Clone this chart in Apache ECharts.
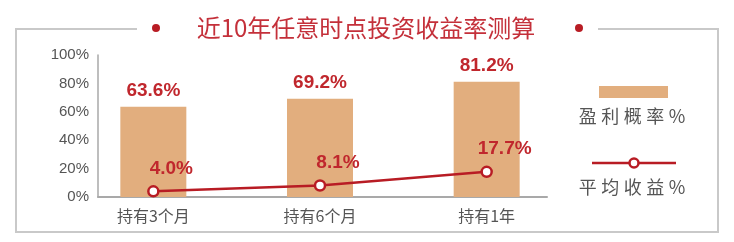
<!DOCTYPE html>
<html><head><meta charset="utf-8">
<script src="https://cdn.jsdelivr.net/npm/echarts@6/dist/echarts.min.js"></script>
<style>html,body{margin:0;padding:0;background:#fff}#c{width:734px;height:242px}</style>
</head><body><div id="c"></div>
<script>
const categories = ['持有3个月', '持有6个月', '持有1年'];
const winRate = [63.6, 69.2, 81.2];
const avgReturn = [4.0, 8.1, 17.7];
const yTicks = [0, 20, 40, 60, 80, 100];
const titleText = '近10年任意时点投资收益率测算';
const legendNames = ['盈利概率%', '平均收益%'];

const BAR = '#e2ae7e', RED = '#b81c24', LBL = '#c0272d', GRAY = '#555555', FRAME = '#c9c9c9';
const FONT = '"Noto Sans CJK SC","Liberation Sans",sans-serif';
const spaced = s => s.split('').join('\u2005');

const chart = echarts.init(document.getElementById('c'), null, {renderer: 'canvas'});
chart.setOption({
  backgroundColor: '#fff',
  animation: false,
  textStyle: {fontFamily: FONT},
  grid: [
    {left: 98, right: 187, top: 55, bottom: 45},
    {left: 70, width: 500, top: 55, bottom: 45}
  ],
  xAxis: [
    {type: 'category', gridIndex: 0, data: categories, axisLine: {lineStyle: {color: '#a9a9a9', width: 2}},
     axisTick: {show: false}, axisLabel: {show: false}},
    {type: 'category', gridIndex: 1, data: categories, axisLine: {show: false}, axisTick: {show: false},
     axisLabel: {color: GRAY, fontSize: 16, margin: 11, fontFamily: FONT}}
  ],
  yAxis: [
    {type: 'value', gridIndex: 0, min: yTicks[0], max: yTicks[yTicks.length - 1], interval: 20,
     axisLine: {show: true, lineStyle: {color: '#a9a9a9', width: 1.5}}, axisTick: {show: false},
     splitLine: {show: false},
     axisLabel: {color: GRAY, fontSize: 15, margin: 9, fontFamily: '"Liberation Sans",sans-serif', formatter: '{value}%'}},
    {type: 'value', gridIndex: 1, min: yTicks[0], max: yTicks[yTicks.length - 1], interval: 20, show: false}
  ],
  series: [
    {name: legendNames[0], type: 'bar', xAxisIndex: 1, yAxisIndex: 1, data: winRate, barWidth: 66,
     itemStyle: {color: BAR},
     label: {show: true, position: 'top', distance: 6, color: LBL, fontSize: 19, fontWeight: 'bold',
             fontFamily: '"Liberation Sans",sans-serif', formatter: p => p.value.toFixed(1) + '%'}},
    {name: legendNames[1], type: 'line', xAxisIndex: 1, yAxisIndex: 1, data: avgReturn,
     symbol: 'circle', symbolSize: 10, z: 5,
     lineStyle: {color: RED, width: 2.5},
     itemStyle: {color: '#fff', borderColor: RED, borderWidth: 2.5},
     label: {show: true, position: 'top', offset: [18, -2], color: LBL, fontSize: 19, fontWeight: 'bold',
             fontFamily: '"Liberation Sans",sans-serif', formatter: p => p.value.toFixed(1) + '%'}}
  ],
  graphic: [
    {type: 'polyline', shape: {points: [[137, 29], [16, 29], [16, 232], [718, 232], [718, 29], [598, 29]]},
     style: {stroke: FRAME, lineWidth: 2, fill: null}},
    {type: 'circle', shape: {cx: 156, cy: 28, r: 4}, style: {fill: RED}},
    {type: 'circle', shape: {cx: 579, cy: 28, r: 4}, style: {fill: RED}},
    {type: 'text', x: 366, y: 28, style: {text: titleText, fill: '#c4303a', fontSize: 24, fontFamily: FONT,
      align: 'center', verticalAlign: 'middle'}},
    {type: 'rect', shape: {x: 599, y: 86, width: 69, height: 12}, style: {fill: BAR}},
    {type: 'text', x: 632, y: 116, style: {text: spaced(legendNames[0]), fill: GRAY, fontSize: 18, fontFamily: FONT,
      align: 'center', verticalAlign: 'middle'}},
    {type: 'line', shape: {x1: 592, y1: 163, x2: 676, y2: 163}, style: {stroke: RED, lineWidth: 2.5}},
    {type: 'circle', shape: {cx: 634, cy: 163, r: 4.5}, style: {fill: '#fff', stroke: RED, lineWidth: 2.5}},
    {type: 'text', x: 632, y: 187, style: {text: spaced(legendNames[1]), fill: GRAY, fontSize: 18, fontFamily: FONT,
      align: 'center', verticalAlign: 'middle'}}
  ]
});
</script></body></html>
